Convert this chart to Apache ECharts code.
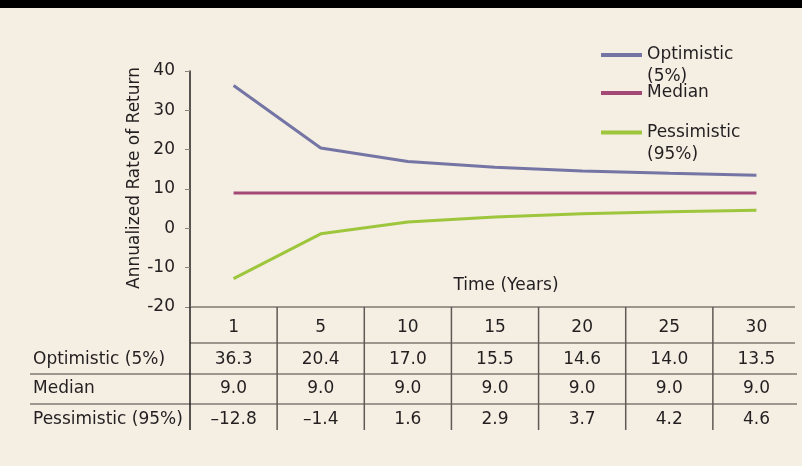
<!DOCTYPE html>
<html>
<head>
<meta charset="utf-8">
<script src="https://cdn.jsdelivr.net/npm/echarts@6/dist/echarts.min.js"></script>
<style>
  html, body { margin: 0; padding: 0; background: #f4eee3; }
  #chart { width: 802px; height: 466px; }
</style>
</head>
<body>
<div id="chart"></div>
<script>
// Horizon in years and annualized returns (%) per scenario
const years = ['1', '5', '10', '15', '20', '25', '30'];
const optimistic = [36.3, 20.4, 17.0, 15.5, 14.6, 14.0, 13.5];
const median = [9.0, 9.0, 9.0, 9.0, 9.0, 9.0, 9.0];
const pessimistic = [-12.8, -1.4, 1.6, 2.9, 3.7, 4.2, 4.6];
const seriesNames = ['Optimistic (5%)', 'Median', 'Pessimistic (95%)'];
const yMin = -20, yMax = 40, yStep = 10;

const FONT = 'DejaVu Sans';
const INK = '#231f20';
const colors = ['#7475a4', '#a44875', '#9ec63c'];
const rows = [optimistic, median, pessimistic];

// value text as printed in the table (en dash for negatives)
const fmt = v => (v < 0 ? '\u2013' + Math.abs(v).toFixed(1) : v.toFixed(1));

// vertical centres of the table rows, measured below the x axis line
const headerOffset = 21;
const rowOffsets = [53, 82, 113];
const tableBottomOffset = 123;

const chart = echarts.init(document.getElementById('chart'));

const tableAxes = rows.map((vals, r) => ({
  type: 'category',
  data: years,
  gridIndex: 0,
  position: 'bottom',
  offset: rowOffsets[r],
  axisLine: { show: false },
  axisTick: { show: false },
  axisLabel: {
    interval: 0,
    margin: 0,
    verticalAlign: 'middle',
    fontFamily: FONT,
    fontSize: 17,
    color: INK,
    formatter: (v, i) => fmt(vals[i])
  }
}));

// one legend block per series; wrapped names keep the swatch level with their first line
const legendTop = [22, 83, 99.5];
const legends = seriesNames.map((name, i) => {
  const wrapped = name.indexOf(' (') >= 0;
  return {
    data: [name],
    left: 601,
    top: legendTop[i],
    padding: 0,
    icon: 'rect',
    itemWidth: 41,
    itemHeight: 4,
    itemGap: 0,
    selectedMode: false,
    formatter: n => (wrapped ? '\n' + n.replace(' (', '\n(') : n),
    textStyle: { fontFamily: FONT, fontSize: 17, color: INK, lineHeight: wrapped ? 22 : 20 }
  };
});

chart.setOption({
  animation: false,
  backgroundColor: '#f4eee3',
  grid: { left: 190, right: 2, top: 71, bottom: 159, containLabel: false },
  legend: legends,
  xAxis: [{
    type: 'category',
    data: years,
    boundaryGap: true,
    axisLine: { show: false },
    axisTick: { show: false },
    axisLabel: {
      interval: 0,
      margin: headerOffset,
      verticalAlign: 'middle',
      fontFamily: FONT,
      fontSize: 17,
      color: INK
    }
  }].concat(tableAxes),
  yAxis: {
    type: 'value',
    min: yMin,
    max: yMax,
    interval: yStep,
    splitLine: { show: false },
    axisLine: { show: true, lineStyle: { color: INK, width: 1.5 } },
    axisTick: { show: true, length: 5, lineStyle: { color: '#8a847c', width: 1 } },
    axisLabel: { margin: 15, fontFamily: FONT, fontSize: 17, color: INK }
  },
  series: rows.map((vals, i) => ({
    name: seriesNames[i],
    type: 'line',
    data: vals,
    color: colors[i],
    symbol: 'none',
    lineStyle: { width: 3, color: colors[i] }
  }))
});

// Table rules, column separators, titles and row labels
function drawDecor() {
  const c0 = chart.convertToPixel({ xAxisIndex: 0 }, years[0]);
  const cN = chart.convertToPixel({ xAxisIndex: 0 }, years[years.length - 1]);
  const band = (cN - c0) / (years.length - 1);
  const axisY = chart.convertToPixel({ yAxisIndex: 0 }, yMin);
  const left = c0 - band / 2;
  const rightEdge = 795;
  const bottom = axisY + tableBottomOffset;
  const gridGray = '#7f7972';
  const sepGray = '#5f5a55';

  const g = [];
  g.push({ type: 'rect', shape: { x: 0, y: 0, width: 802, height: 8 }, style: { fill: '#000' }, z: 10 });

  // horizontal rules
  const hLines = [
    { y: axisY, x1: left, x2: rightEdge },
    { y: axisY + 36, x1: left, x2: rightEdge },
    { y: axisY + 67, x1: 30, x2: rightEdge + 2 },
    { y: axisY + 97, x1: 30, x2: rightEdge + 2 }
  ];
  hLines.forEach(h => g.push({
    type: 'line', shape: { x1: h.x1, y1: h.y, x2: h.x2, y2: h.y },
    style: { stroke: gridGray, lineWidth: 1.5 }, z: 5
  }));

  // column separators
  for (let k = 1; k < years.length; k++) {
    const x = left + k * band;
    g.push({
      type: 'line', shape: { x1: x, y1: axisY, x2: x, y2: bottom },
      style: { stroke: sepGray, lineWidth: 1.5 }, z: 5
    });
  }
  // y axis line continues down through the table
  g.push({
    type: 'line', shape: { x1: left, y1: axisY, x2: left, y2: bottom },
    style: { stroke: INK, lineWidth: 1.5 }, z: 6
  });

  // row labels
  seriesNames.forEach((name, r) => g.push({
    type: 'text', x: 33, y: axisY + rowOffsets[r],
    style: { text: name, font: '17px "' + FONT + '"', fill: INK, verticalAlign: 'middle', align: 'left' },
    z: 5
  }));

  // axis titles
  g.push({
    type: 'text', x: 506, y: 286,
    style: { text: 'Time (Years)', font: '17px "' + FONT + '"', fill: INK, align: 'center', verticalAlign: 'middle' },
    z: 5
  });
  g.push({
    type: 'text', x: 135, y: 178, rotation: Math.PI / 2,
    style: { text: 'Annualized Rate of Return', font: '17px "' + FONT + '"', fill: INK, align: 'center', verticalAlign: 'middle' },
    z: 5
  });

  chart.setOption({ graphic: g });
}
drawDecor();
</script>
</body>
</html>
